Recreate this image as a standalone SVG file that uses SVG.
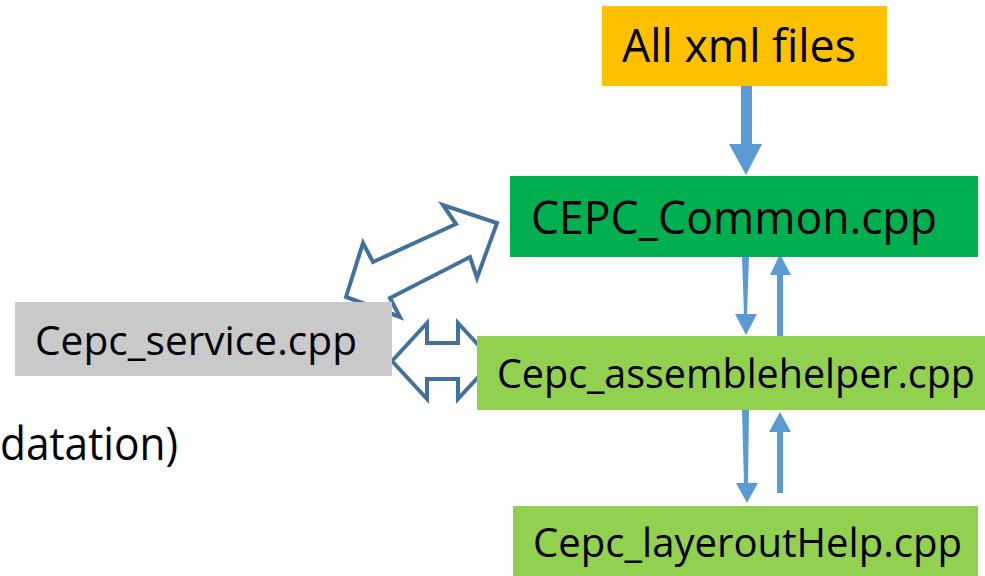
<svg xmlns="http://www.w3.org/2000/svg" width="985" height="576" viewBox="0 0 985 576">
<style>
  .t { font-family: "Open Sans", "Noto Sans", "Liberation Sans", sans-serif; fill: #000; }
  .blk { fill: #fff; stroke: #41719C; stroke-width: 4; stroke-linejoin: miter; }
  .ar { fill: #5B9BD5; stroke: none; }
</style>
<rect width="985" height="576" fill="#fff"/>
<text class="t" x="0" y="460" font-size="45" textLength="178" lengthAdjust="spacingAndGlyphs">datation)</text>
<g id="connectors">
  <path class="ar" d="M741,86 H752 V144 H762 L746,175 L729,144 H741 Z"/>
  <path class="ar" d="M742,257 H749 L747,314 H757 L746,335 L735,314 H744 Z"/>
  <path class="ar" d="M777,336 H783 V275 H791 L780,254 L770,275 H777 Z"/>
  <path class="ar" d="M742,410 H749 L748,483 H758 L747,503 L736,483 H744 Z"/>
  <path class="ar" d="M777,493 H783 V432 H791 L780,412 L769,432 H777 Z"/>
  <path class="blk" d="M346,297 L363,243 L373,262 L456,224 L443,205 L497,223 L477,278 L470,257 L390,298 L400,317 Z"/>
  <path class="blk" d="M392,361 L427,323 L427,343 L458,343 L458,323 L493,361 L458,399 L458,379 L427,379 L427,399 Z"/>
</g>
<g id="node-xml">
  <rect x="602" y="6" width="285" height="80" fill="#FFC000"/>
  <text class="t" x="622" y="62" font-size="45" textLength="234" lengthAdjust="spacingAndGlyphs">All xml files</text>
</g>
<g id="node-common">
  <rect x="510" y="176" width="468" height="81" fill="#00B050"/>
  <text class="t" x="531" y="234" font-size="45" textLength="406" lengthAdjust="spacingAndGlyphs">CEPC_Common.cpp</text>
</g>
<g id="node-service">
  <rect x="15" y="302" width="377" height="74" fill="#C9C9C9"/>
  <text class="t" x="35" y="355" font-size="41" textLength="322" lengthAdjust="spacingAndGlyphs">Cepc_service.cpp</text>
</g>
<g id="node-assemble">
  <rect x="477" y="336" width="508" height="74" fill="#92D050"/>
  <text class="t" x="497" y="388" font-size="41" textLength="478" lengthAdjust="spacingAndGlyphs">Cepc_assemblehelper.cpp</text>
</g>
<g id="node-layerout">
  <rect x="513" y="506" width="465" height="70" fill="#92D050"/>
  <text class="t" x="533" y="557" font-size="41" textLength="429" lengthAdjust="spacingAndGlyphs">Cepc_layeroutHelp.cpp</text>
</g>
</svg>
